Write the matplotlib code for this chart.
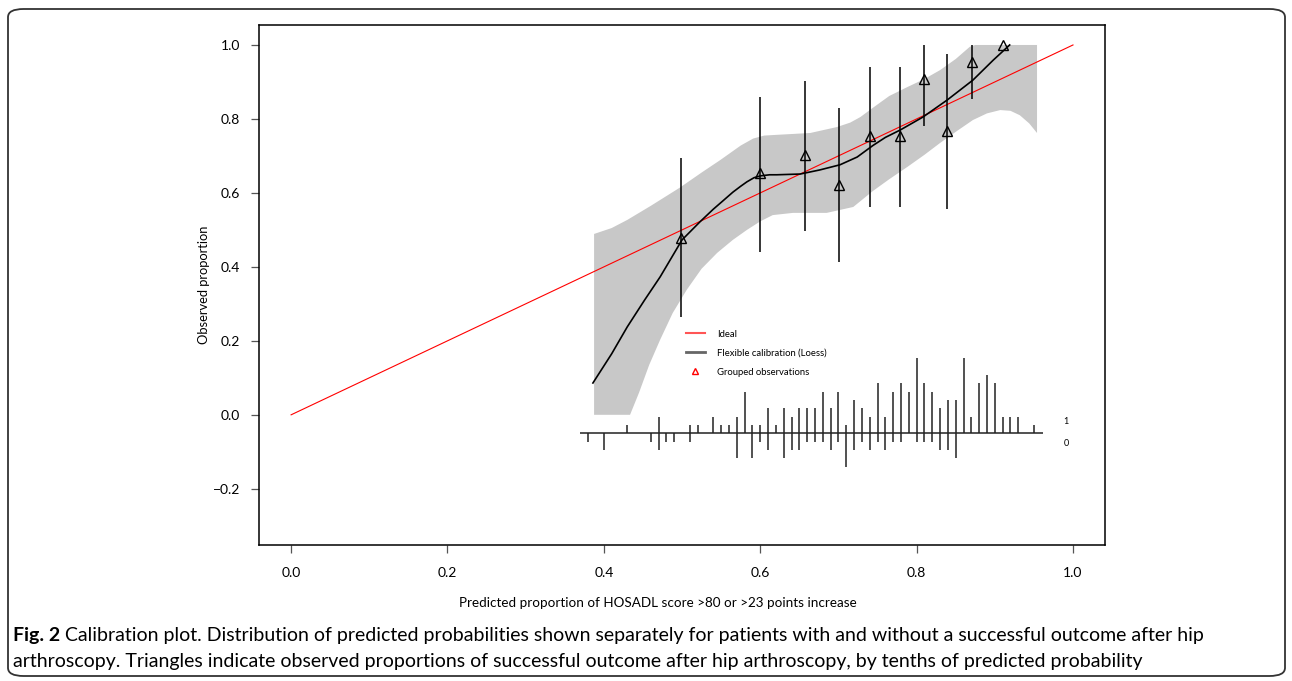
import matplotlib.pyplot as plt
from matplotlib.lines import Line2D
from matplotlib.patches import FancyBboxPatch
import numpy as np

plt.rcParams['font.family'] = ['Lato', 'DejaVu Sans']

# flexible calibration (loess) curve
loess_x = [0.386, 0.410, 0.430, 0.452, 0.472, 0.500, 0.523, 0.540, 0.552, 0.565,
           0.575, 0.583, 0.592, 0.600, 0.612, 0.621, 0.651, 0.676, 0.702, 0.724,
           0.744, 0.760, 0.779, 0.808, 0.839, 0.872, 0.898, 0.919]
loess_y = [0.086, 0.165, 0.238, 0.310, 0.373, 0.473, 0.522, 0.556, 0.578, 0.602,
           0.618, 0.630, 0.641, 0.646, 0.649, 0.649, 0.651, 0.662, 0.676, 0.697,
           0.728, 0.750, 0.770, 0.805, 0.851, 0.905, 0.959, 1.000]

# confidence band
band_up_x = [0.3875, 0.410, 0.430, 0.460, 0.497, 0.525, 0.549, 0.575, 0.591, 0.605,
             0.621, 0.664, 0.698, 0.715, 0.728, 0.744, 0.765, 0.788, 0.810, 0.830,
             0.850, 0.868, 0.875, 0.954]
band_up_y = [0.489, 0.505, 0.527, 0.565, 0.614, 0.655, 0.689, 0.728, 0.747, 0.755,
             0.757, 0.762, 0.778, 0.790, 0.805, 0.830, 0.862, 0.886, 0.908, 0.932,
             0.962, 0.995, 1.000, 1.000]
band_lo_x = [0.3875, 0.4335, 0.445, 0.458, 0.472, 0.488, 0.506, 0.525, 0.545, 0.565,
             0.583, 0.600, 0.616, 0.642, 0.685, 0.719, 0.744, 0.765, 0.788, 0.810,
             0.830, 0.852, 0.872, 0.890, 0.907, 0.920, 0.932, 0.944, 0.954]
band_lo_y = [0.000, 0.000, 0.060, 0.135, 0.203, 0.275, 0.338, 0.395, 0.438, 0.473,
             0.500, 0.523, 0.540, 0.546, 0.546, 0.562, 0.605, 0.637, 0.670, 0.703,
             0.735, 0.768, 0.797, 0.815, 0.824, 0.822, 0.810, 0.788, 0.762]

# grouped observations (tenths of predicted probability)
grp_x = [0.499, 0.600, 0.657, 0.701, 0.741, 0.779, 0.809, 0.839, 0.871, 0.911]
grp_y = [0.478, 0.654, 0.703, 0.622, 0.754, 0.754, 0.907, 0.768, 0.955, 1.000]
grp_lo = [0.265, 0.441, 0.498, 0.412, 0.561, 0.561, 0.781, 0.557, 0.855, 1.000]
grp_hi = [0.694, 0.860, 0.902, 0.829, 0.941, 0.941, 1.000, 0.976, 1.000, 1.000]

# spike histogram of predicted probabilities
spike_x = [0.38, 0.40, 0.43, 0.46, 0.47, 0.48, 0.49, 0.51, 0.52, 0.54,
           0.55, 0.56, 0.57, 0.58, 0.59, 0.60, 0.61, 0.62, 0.63, 0.64,
           0.65, 0.66, 0.67, 0.68, 0.69, 0.70, 0.71, 0.72, 0.73, 0.74,
           0.75, 0.76, 0.77, 0.78, 0.79, 0.80, 0.81, 0.82, 0.83, 0.84,
           0.85, 0.86, 0.87, 0.88, 0.89, 0.90, 0.91, 0.92, 0.93, 0.95]
n_event = [0, 0, 1, 0, 2, 0, 0, 1, 1, 2,
           1, 1, 2, 5, 1, 1, 3, 1, 3, 2,
           3, 3, 3, 5, 3, 5, 1, 4, 3, 2,
           6, 2, 5, 6, 5, 9, 6, 5, 3, 4,
           4, 9, 2, 6, 7, 6, 2, 2, 2, 1]
n_noevent = [1, 2, 0, 1, 2, 1, 1, 1, 0, 0,
             0, 0, 3, 0, 3, 1, 2, 0, 3, 2,
             2, 1, 1, 1, 2, 1, 4, 2, 1, 2,
             1, 2, 1, 1, 0, 1, 1, 1, 2, 2,
             3, 0, 0, 0, 0, 0, 0, 0, 0, 0]

xticks = [0.0, 0.2, 0.4, 0.6, 0.8, 1.0]
yticks = [-0.2, 0.0, 0.2, 0.4, 0.6, 0.8, 1.0]

fig = plt.figure(figsize=(12.92, 6.81), dpi=100)
ax = fig.add_axes([0.2005, 0.1997, 0.6548, 0.7636])

ax.fill(band_up_x + band_lo_x[::-1], band_up_y + band_lo_y[::-1],
        color='#c8c8c8', lw=0, zorder=1)
ax.plot([0, 1], [0, 1], color='red', lw=0.8, zorder=2)
ax.plot(loess_x, loess_y, color='black', lw=1.2, zorder=3)
ax.vlines(grp_x, grp_lo, grp_hi, color='black', lw=1.1, zorder=3)
ax.plot(grp_x, grp_y, ls='none', marker='^', ms=7.5, mfc='none', mec='black',
        mew=1.0, zorder=4)

# spikes: events up, non-events down
base = -0.05
unit = 0.0225
sx = np.array(spike_x)
up = np.array(n_event) * unit
dn = np.array(n_noevent) * unit
ax.hlines(base, 0.3696, 0.9616, color='#222222', lw=1.1, zorder=3)
ax.vlines(sx[up > 0], base, base + up[up > 0], color='#222222', lw=1.1, zorder=3)
ax.vlines(sx[dn > 0], base - dn[dn > 0], base, color='#222222', lw=1.1, zorder=3)
ax.text(0.991, -0.019, '1', fontsize=6.5, ha='center', va='center')
ax.text(0.991, -0.078, '0', fontsize=6.5, ha='center', va='center')

ax.set_xlim(-0.041, 1.041)
ax.set_ylim(-0.352, 1.054)
ax.set_xticks(xticks)
ax.set_yticks(yticks)
ax.set_xticklabels(['%.1f' % v for v in xticks])
ax.set_yticklabels([('%.1f' % v).replace('-', '\u2212') for v in yticks])
ax.tick_params(direction='out', length=5.5, width=0.9, color='#555555',
               labelsize=10, pad=8)
ax.tick_params(axis='x', pad=10)
for s in ax.spines.values():
    s.set_linewidth(1.1)

ax.set_xlabel('Predicted proportion of HOSADL score >80 or >23 points increase',
              fontsize=9.7)
ax.xaxis.label.set_va('center')
ax.xaxis.set_label_coords(0.471, -0.112)
ax.set_ylabel('Observed proportion', fontsize=9.3)
ax.yaxis.label.set_va('center')
ax.yaxis.set_label_coords(-0.065, 0.5)

handles = [Line2D([], [], color='#ff5555', lw=1.5),
           Line2D([], [], color='#666666', lw=2),
           Line2D([], [], ls='none', marker='^', ms=5, mfc='none', mec='red', mew=1)]
ax.legend(handles, ['Ideal', 'Flexible calibration (Loess)', 'Grouped observations'],
          loc='center left', bbox_to_anchor=(0.499, 0.369), frameon=False,
          fontsize=6.8, handlelength=2.0, handletextpad=1.3, labelspacing=1.05,
          borderpad=0)

# caption
cap_size = 14
fig.canvas.draw()
rend = fig.canvas.get_renderer()
t_fig = fig.text(13 / 1292, 1 - 636 / 681, 'Fig. 2', fontsize=cap_size,
                 fontweight='bold', va='center', ha='left')
x_after = t_fig.get_window_extent(rend).x1 + 5
fig.text(x_after / 1292, 1 - 636 / 681,
         'Calibration plot. Distribution of predicted probabilities shown separately '
         'for patients with and without a successful outcome after hip',
         fontsize=cap_size, va='center', ha='left')
fig.text(13 / 1292, 1 - 661 / 681,
         'arthroscopy. Triangles indicate observed proportions of successful outcome '
         'after hip arthroscopy, by tenths of predicted probability',
         fontsize=cap_size, va='center', ha='left')

frame = FancyBboxPatch((8 / 1292, 5 / 681), 1277 / 1292, 667 / 681,
                       boxstyle='round,pad=0,rounding_size=0.012',
                       transform=fig.transFigure, fill=False,
                       ec='#333333', lw=1.3)
fig.patches.append(frame)

fig.savefig('out.png', dpi=100)
